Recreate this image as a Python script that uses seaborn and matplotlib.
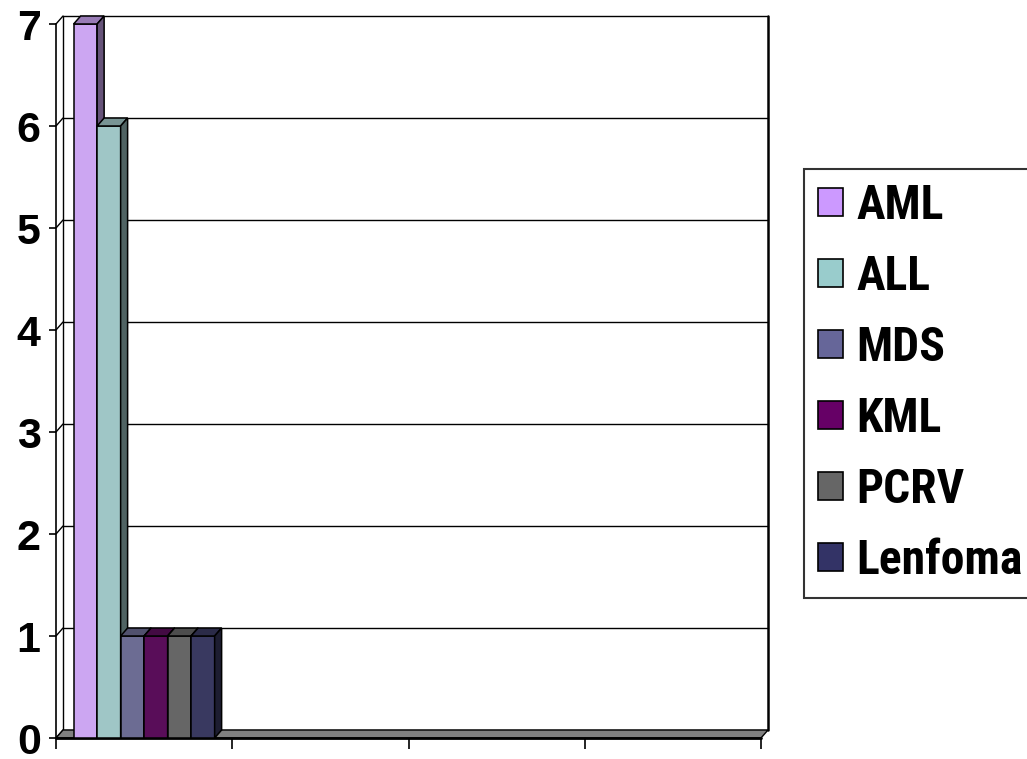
import numpy as np
import pandas as pd
import matplotlib
matplotlib.use("Agg")
import matplotlib.pyplot as plt
import matplotlib.patches as mpatches
from matplotlib import font_manager
from matplotlib.font_manager import FontProperties
from matplotlib.textpath import TextPath
import seaborn as sns

# ---- data ----
categories = ["AML", "ALL", "MDS", "KML", "PCRV", "Lenfoma"]
values = [7, 6, 1, 1, 1, 1]
group = ["1"] * len(categories)
colors = ["#CC99FF", "#99CCCC", "#666699", "#660066", "#666666", "#333366"]
yticks = [0, 1, 2, 3, 4, 5, 6, 7]
n_slots = 4  # category slots along the x axis

df = pd.DataFrame({"grup": group, "tur": categories, "deger": values})

sns.set_theme(style="white")
plt.rcParams["font.family"] = ["Liberation Sans", "DejaVu Sans"]
plt.rcParams["font.weight"] = "bold"
plt.rcParams["text.color"] = "black"
plt.rcParams["xtick.color"] = "black"
plt.rcParams["ytick.color"] = "black"
plt.rcParams["ytick.labelcolor"] = "black"

# choose the upright bold face whose proportions best match the reference legend text
target_ratio = 168.0 / 35.0   # width of "Lenfoma" / cap height
best, best_err = None, 1e9
seen = set()
for f in font_manager.fontManager.ttflist:
    if f.fname in seen:
        continue
    seen.add(f.fname)
    if str(f.style).lower() != "normal" or "italic" in f.fname.lower() or "oblique" in f.fname.lower():
        continue
    if str(f.weight) not in ("bold", "700"):
        continue
    if "cjk" in f.name.lower() or "mono" in f.name.lower() or "serif" in f.name.lower() and "sans" not in f.name.lower():
        continue
    try:
        fp = FontProperties(fname=f.fname, size=100)
        wext = TextPath((0, 0), "Lenfoma", prop=fp).get_extents().width
        hext = TextPath((0, 0), "H", prop=fp).get_extents().height
    except Exception:
        continue
    if hext <= 0:
        continue
    err = abs(wext / hext - target_ratio)
    if err < best_err:
        best, best_err = f, err
leg_prop = FontProperties(fname=best.fname) if best is not None else \
    FontProperties(family=["Liberation Sans", "DejaVu Sans"], weight="bold")

W, H = 1027, 759
fig = plt.figure(figsize=(W / 100, H / 100), dpi=100)
left_px, right_px, y0_px, y7_px = 56, 761, 738, 24
ax = fig.add_axes([left_px / W, (H - y0_px) / H, (right_px - left_px) / W, (y0_px - y7_px) / H])

sns.barplot(data=df, x="grup", y="deger", hue="tur", hue_order=categories,
            palette=colors, width=0.8, edgecolor="black", linewidth=1.1,
            legend=False, ax=ax)

ax.set_xlim(-0.5, n_slots - 0.5)
ax.set_ylim(0, 7)
ax.set_xlabel("")
ax.set_ylabel("")

# depth offset in data units
dx_px, dy_px = 7, 8
ux = (right_px - left_px) / n_slots
uy = (y0_px - y7_px) / 7
dx, dy = dx_px / ux, dy_px / uy

for s in ["top", "right", "bottom"]:
    ax.spines[s].set_visible(False)
ax.spines["left"].set_color("black")
ax.spines["left"].set_linewidth(1.2)

# back wall and gridlines
x0, x1 = -0.5, n_slots - 0.5
for t in yticks:
    ax.plot([x0 + dx, x1 + dx], [t + dy, t + dy], color="black", lw=1.0, zorder=1, clip_on=False)
    ax.plot([x0, x0 + dx], [t, t + dy], color="black", lw=1.0, zorder=1, clip_on=False)
ax.plot([x0 + dx, x0 + dx], [dy, 7 + dy], color="black", lw=1.0, zorder=1, clip_on=False)
ax.plot([x1 + dx, x1 + dx], [dy, 7 + dy], color="black", lw=1.8, zorder=1, clip_on=False)

# floor
floor = mpatches.Polygon([(x0, 0), (x1, 0), (x1 + dx, dy), (x0 + dx, dy)], closed=True,
                         facecolor="#808080", edgecolor="black", lw=1.0, zorder=1.5, clip_on=False)
ax.add_patch(floor)
ax.plot([x0, x1], [0, 0], color="black", lw=2.0, zorder=1.6, clip_on=False)

# 3D faces of bars
bars = [p for p in ax.patches if isinstance(p, mpatches.Rectangle) and p.get_height() > 0]
bars = sorted(bars, key=lambda p: p.get_x())
for i, p in enumerate(bars):
    z = 3 + i * 0.1
    p.set_zorder(z)
    p.set_clip_on(False)
    x, w, h = p.get_x(), p.get_width(), p.get_height()
    fc = np.array(matplotlib.colors.to_rgb(p.get_facecolor()))
    top = mpatches.Polygon([(x, h), (x + w, h), (x + w + dx, h + dy), (x + dx, h + dy)], closed=True,
                           facecolor=fc * 0.75, edgecolor="black", lw=1.1, zorder=z + 0.05, clip_on=False)
    side = mpatches.Polygon([(x + w, 0), (x + w + dx, dy), (x + w + dx, h + dy), (x + w, h)], closed=True,
                            facecolor=fc * 0.5, edgecolor="black", lw=1.1, zorder=z + 0.05, clip_on=False)
    ax.add_patch(top)
    ax.add_patch(side)

# ticks
ax.set_yticks(yticks)
ax.set_yticklabels([str(t) for t in yticks], fontsize=31, fontweight="bold", color="black")
ax.set_xticks(np.arange(-0.5, n_slots, 1.0))
ax.set_xticklabels([])
ax.tick_params(axis="y", direction="out", length=5, width=1.2, color="black", pad=6, left=True)
ax.tick_params(axis="x", direction="out", length=8, width=1.2, color="black", bottom=True)
ax.set_facecolor("none")

# legend font size: fit widest label to the reference width
renderer = fig.canvas.get_renderer()
leg_prop.set_size(35)
wpx = TextPath((0, 0), "Lenfoma", prop=leg_prop).get_extents().width * 100 / 72
leg_size = min(38.0, 35.0 * 162.0 / wpx)
leg_prop.set_size(leg_size)
probe = fig.text(0, 0, "Lenfoma", fontproperties=leg_prop)
hpx = probe.get_window_extent(renderer).height
probe.remove()
fs_px = leg_size * 100 / 72
row_px = 71.0
labelspacing = max(0.05, (row_px - hpx) / fs_px)
hsize = 25.0 / fs_px

handles = [mpatches.Patch(facecolor=c, edgecolor="black", lw=1.2) for c in colors]
leg = fig.legend(handles, categories, loc="upper left", bbox_to_anchor=(804 / W, (H - 169) / H),
                 bbox_transform=fig.transFigure, prop=leg_prop,
                 handlelength=hsize, handleheight=hsize, handletextpad=13.0 / fs_px,
                 labelspacing=labelspacing, borderpad=14.0 / fs_px, borderaxespad=0,
                 frameon=True, fancybox=False, labelcolor="black")
leg.get_frame().set_edgecolor("black")
leg.get_frame().set_linewidth(1.5)

fig.savefig("out.png", dpi=100)
